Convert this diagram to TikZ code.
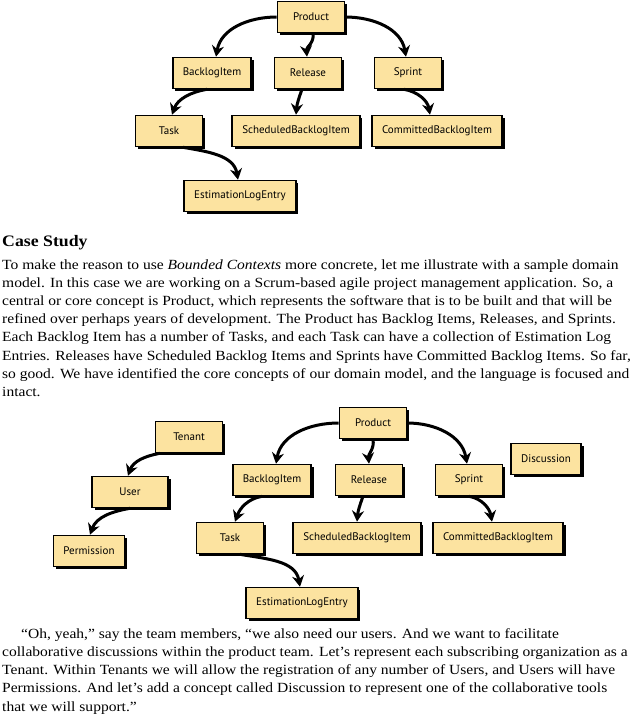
\documentclass[tikz,border=0pt]{standalone}
\usepackage{fontspec}
\setmainfont{Liberation Serif}[FakeStretch=1.11]
\newfontfamily\boxfont{PT Sans}
\usetikzlibrary{arrows.meta,shadows}
\definecolor{entityfill}{RGB}{252,227,160}

\tikzset{
  entity/.style={draw, line width=1.6pt, fill=entityfill,
    font=\boxfont\fontsize{11}{13}\selectfont,
    minimum width=67pt, minimum height=31pt, inner xsep=10pt,
    drop shadow={shadow xshift=2.6pt, shadow yshift=-2.6pt, fill=black, opacity=1}},
  has/.style={line width=3pt, -{Stealth[length=11pt,width=12pt]}},
  para/.style={anchor=north west, align=left, inner sep=0pt,
    font=\fontsize{14}{18.1}\selectfont}
}

\begin{document}
\begin{tikzpicture}[x=1pt, y=1pt]
  \useasboundingbox (0,0) rectangle (636,-720);

  % first model
  \node[entity] (product1)    at (311,-17)  {Product};
  \node[entity, minimum width=78pt] (backlog1) at (212,-73) {BacklogItem};
  \node[entity] (release1)    at (308,-73)  {Release};
  \node[entity] (sprint1)     at (408,-73)  {Sprint};
  \node[entity] (task1)       at (169,-131) {Task};
  \node[entity] (scheduled1)  at (296,-131) {ScheduledBacklogItem};
  \node[entity] (committed1)  at (437,-131) {CommittedBacklogItem};
  \node[entity] (estimation1) at (240,-196) {EstimationLogEntry};

  \draw[has] (product1.west) to[out=180, in=80] ([xshift=4pt]backlog1.north);
  \draw[has] ([xshift=2pt]product1.south) to[out=-80, in=95] ([xshift=-1pt]release1.north);
  \draw[has] (product1.east) to[out=0, in=100] ([xshift=-2pt]sprint1.north);
  \draw[has] ([xshift=-5pt]backlog1.south) to[out=190, in=70] ([xshift=3pt]task1.north);
  \draw[has] ([xshift=-6pt]release1.south) to[out=-110, in=85] (scheduled1.north);
  \draw[has] ([xshift=-4pt]sprint1.south) to[out=-10, in=100] ([xshift=-7pt]committed1.north);
  \draw[has] ([xshift=14pt]task1.south) to[out=-10, in=100] ([xshift=-2pt]estimation1.north);

  % text
  \node[anchor=base west, inner sep=0pt, font=\fontsize{16}{20}\selectfont\bfseries]
    (heading) at (2,-246.7) {Case Study};
  \node[para] (text1) at (2,-259.6) {To make the reason to use \emph{Bounded Contexts} more concrete, let me illustrate with a sample domain\\
model. In this case we are working on a Scrum-based agile project management application. So, a\\
central or core concept is Product, which represents the software that is to be built and that will be\\
refined over perhaps years of development. The Product has Backlog Items, Releases, and Sprints.\\
Each Backlog Item has a number of Tasks, and each Task can have a collection of Estimation Log\\
Entries. Releases have Scheduled Backlog Items and Sprints have Committed Backlog Items. So far,\\
so good. We have identified the core concepts of our domain model, and the language is focused and\\
intact.};

  % second model
  \node[entity] (tenant2)     at (189,-437) {Tenant};
  \node[entity, minimum width=76pt] (user2) at (130,-492) {User};
  \node[entity] (permission2) at (89,-551)  {Permission};
  \node[entity] (product2)    at (373,-423) {Product};
  \node[entity] (discussion2) at (546,-459) {Discussion};
  \node[entity, minimum width=78pt] (backlog2) at (272,-480) {BacklogItem};
  \node[entity] (release2)    at (369,-480) {Release};
  \node[entity] (sprint2)     at (469,-480) {Sprint};
  \node[entity] (task2)       at (230,-538) {Task};
  \node[entity] (scheduled2)  at (357,-538) {ScheduledBacklogItem};
  \node[entity] (committed2)  at (498,-538) {CommittedBacklogItem};
  \node[entity] (estimation2) at (302,-603) {EstimationLogEntry};

  \draw[has] ([xshift=-29pt]tenant2.south) to[out=190, in=70] ([xshift=-2pt]user2.north);
  \draw[has] (user2.south) to[out=190, in=70] ([xshift=1pt]permission2.north);
  \draw[has] (product2.west) to[out=180, in=80] ([xshift=4pt]backlog2.north);
  \draw[has] (product2.south) to[out=-80, in=95] (release2.north);
  \draw[has] (product2.east) to[out=0, in=100] ([xshift=-2pt]sprint2.north);
  \draw[has] ([xshift=-10pt]backlog2.south) to[out=190, in=70] ([xshift=5pt]task2.north);
  \draw[has] ([xshift=-6pt]release2.south) to[out=-110, in=85] (scheduled2.north);
  \draw[has] (sprint2.south) to[out=-10, in=100] ([xshift=-6pt]committed2.north);
  \draw[has] ([xshift=10pt]task2.south) to[out=-10, in=100] ([xshift=-2pt]estimation2.north);

  \node[para] (text2) at (2,-628.6) {\hspace*{19pt}“Oh, yeah,” say the team members, “we also need our users. And we want to facilitate\\
collaborative discussions within the product team. Let’s represent each subscribing organization as a\\
Tenant. Within Tenants we will allow the registration of any number of Users, and Users will have\\
Permissions. And let’s add a concept called Discussion to represent one of the collaborative tools\\
that we will support.”};
\end{tikzpicture}
\end{document}
